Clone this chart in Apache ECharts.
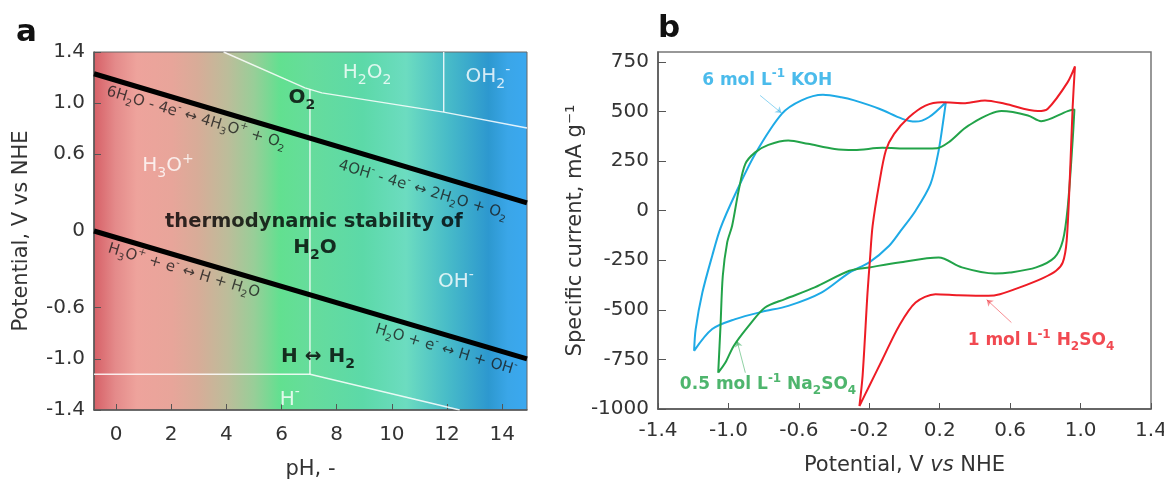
<!DOCTYPE html>
<html>
<head>
<meta charset="utf-8">
<script src="https://cdn.jsdelivr.net/npm/echarts@6/dist/echarts.min.js"></script>
<style>
  html, body { margin: 0; padding: 0; background: #ffffff; }
  #chart { width: 1164px; height: 481px; }
</style>
</head>
<body>
<div id="chart"></div>
<script>
// ---------- Panel a: Pourbaix-type stability diagram of water ----------
const phTicks = [0, 2, 4, 6, 8, 10, 12, 14];
const potentialTicksA = [-1.4, -1.0, -0.6, 0, 0.6, 1.0, 1.4];

// water stability limits (pH, V vs NHE)
const oxygenLine = [[-0.8, 1.23], [14.9, 0.22]];
const hydrogenLine = [[-0.8, 0.0], [14.9, -1.0]];

// thin region boundaries
const peroxideBoundary = [[3.9, 1.4], [6.85, 1.12], [7.46, 1.08], [11.88, 0.93], [14.9, 0.806]];
const perhydroxylBoundary = [[11.88, 1.4], [11.88, 0.93]];
const neutralBoundary = [[7.03, 1.11], [7.03, -1.12]];
const hydrideBoundary = [[-0.8, -1.12], [7.03, -1.12], [12.46, -1.4]];

// species / reaction names
const speciesLabels = ['H₂O₂', 'OH₂⁻', 'H₃O⁺', 'OH⁻', 'H⁻'];
const keyLabels = ['O₂', 'thermodynamic stability of', 'H₂O', 'H ↔ H₂'];
const reactionLabels = [
  '6H₂O - 4e⁻ ↔ 4H₃O⁺ + O₂',
  '4OH⁻ - 4e⁻ ↔ 2H₂O + O₂',
  'H₃O⁺ + e⁻ ↔ H + H₂O',
  'H₂O + e⁻ ↔ H + OH⁻'
];

// ---------- Panel b: cyclic voltammograms ----------
const potentialTicksB = [-1.4, -1.0, -0.6, -0.2, 0.2, 0.6, 1.0, 1.4];
const currentTicks = [-1000, -750, -500, -250, 0, 250, 500, 750];

const kohCurve = [
  [-1.195, -707], [-1.186, -597], [-1.148, -413], [-1.092, -227], [-1.045, -88],
  [-0.961, 84], [-0.848, 286], [-0.697, 488], [-0.585, 556], [-0.463, 584],
  [-0.359, 572], [-0.285, 556], [-0.144, 514], [-0.012, 463], [0.063, 449],
  [0.138, 471], [0.235, 547], [0.223, 471], [0.194, 303], [0.148, 135],
  [0.063, 0], [-0.021, -101], [-0.087, -177], [-0.2, -261], [-0.313, -312],
  [-0.472, -413], [-0.66, -480], [-0.81, -510], [-0.961, -547], [-1.092, -597],
  [-1.195, -707]
];
const na2so4Curve = [
  [-1.058, -817], [-1.045, -581], [-1.032, -328], [-1.007, -160], [-0.979, -76],
  [-0.942, 101], [-0.904, 236], [-0.848, 294], [-0.773, 332], [-0.66, 354],
  [-0.548, 337], [-0.397, 311], [-0.285, 306], [-0.125, 317], [0.025, 313],
  [0.185, 315], [0.251, 345], [0.363, 429], [0.551, 502], [0.701, 480],
  [0.776, 451], [0.927, 502], [0.965, 510], [0.955, 354], [0.927, 17],
  [0.899, -152], [0.852, -236], [0.748, -286], [0.598, -312], [0.514, -317],
  [0.326, -286], [0.194, -236], [-0.031, -261], [-0.2, -286], [-0.313, -303],
  [-0.51, -387], [-0.679, -446], [-0.792, -488], [-0.885, -581], [-0.97, -682],
  [-1.017, -766], [-1.058, -817]
];
const h2so4Curve = [
  [-0.256, -985], [-0.238, -833], [-0.21, -413], [-0.196, -244], [-0.181, -76],
  [-0.144, 135], [-0.106, 303], [-0.059, 387], [0.025, 471], [0.119, 530],
  [0.213, 547], [0.345, 542], [0.457, 556], [0.57, 539], [0.758, 502],
  [0.814, 514], [0.927, 648], [0.968, 727], [0.955, 522], [0.94, 185],
  [0.921, -152], [0.899, -261], [0.861, -303], [0.786, -340], [0.655, -387],
  [0.542, -421], [0.476, -429], [0.307, -426], [0.176, -421], [0.063, -463],
  [-0.031, -581], [-0.125, -749], [-0.2, -884], [-0.256, -985]
];
const electrolyteNames = ['6 mol L⁻¹ KOH', '0.5 mol L⁻¹ Na₂SO₄', '1 mol L⁻¹ H₂SO₄'];

// ---------- layout & styling ----------
const FONT = 'DejaVu Sans';
const TEXT = '#333333';
const AXIS = '#555555';
const COLORS = { koh: '#1eaae6', na: '#22a349', h: '#ee1c25' };

// anchor points (pH, V) for the text in panel a
const speciesAnchors = [[9.1, 1.236], [13.48, 1.205], [1.88, 0.509], [12.32, -0.398], [6.3, -1.32]];
const keyAnchors = [[6.74, 1.04], [7.17, 0.071], [7.21, -0.132], [7.32, -0.985]];
const reactionAnchors = [[2.9, 0.884], [11.12, 0.32], [2.46, -0.312], [11.96, -0.93]];

// anchor points (V, mA/g) for the electrolyte names and their pointers
const nameAnchors = [[-0.78, 657], [-0.775, -879], [0.775, -657]];
const pointerCoords = [
  [[-0.82, 581], [-0.698, 492]],
  [[-0.904, -817], [-0.951, -657]],
  [[0.607, -564], [0.467, -449]]
];
const curveColors = [COLORS.koh, COLORS.na, COLORS.h];

const fmt1 = v => (v === 0 ? '0' : v.toFixed(1));

// turn unicode sub/superscripts into rich-text fragments
const SUB = '₀₁₂₃₄₅₆₇₈₉';
const SUP = { '⁺': '+', '⁻': '-', '¹': '1' };
function toRich(s) {
  return s
    .replace(/[₀-₉]+/g, m => '{sub|' + [...m].map(c => SUB.indexOf(c)).join('') + '}')
    .replace(/[⁺⁻¹]+/g, m => '{sup|' + [...m].map(c => SUP[c]).join('') + '}');
}

function labelPoint(pos, text, style) {
  const fs = style.fontSize;
  const base = { fontFamily: FONT, color: style.color, fontWeight: style.fontWeight || 'normal' };
  return {
    value: pos,
    label: Object.assign({
      show: true, position: 'inside', formatter: toRich(text), fontFamily: FONT,
      lineHeight: Math.round(fs * 1.4),
      rich: {
        sub: Object.assign({ fontSize: Math.round(fs * 0.68), lineHeight: Math.round(fs * 0.8), verticalAlign: 'bottom' }, base),
        sup: Object.assign({ fontSize: Math.round(fs * 0.68), lineHeight: Math.round(fs * 1.0), verticalAlign: 'top' }, base)
      }
    }, style)
  };
}

function boundary(data) {
  return {
    type: 'line', xAxisIndex: 0, yAxisIndex: 0, data: data,
    symbol: 'none', silent: true, z: 3,
    lineStyle: { color: 'rgba(255,255,255,0.85)', width: 1.4 }
  };
}

const bgGradient = new echarts.graphic.LinearGradient(0, 0, 1, 0, [
  { offset: 0.00, color: '#d65f66' },
  { offset: 0.05, color: '#e48a8a' },
  { offset: 0.10, color: '#eea39c' },
  { offset: 0.18, color: '#e8a59a' },
  { offset: 0.24, color: '#d8ac98' },
  { offset: 0.31, color: '#bcbd9a' },
  { offset: 0.37, color: '#98ce98' },
  { offset: 0.43, color: '#62e090' },
  { offset: 0.50, color: '#66dc9c' },
  { offset: 0.62, color: '#5cd9a8' },
  { offset: 0.72, color: '#6cdcc0' },
  { offset: 0.815, color: '#48bcc8' },
  { offset: 0.91, color: '#2d98cf' },
  { offset: 0.955, color: '#3aa6e8' },
  { offset: 1.00, color: '#3aa8f0' }
]);

const tickFont = { fontFamily: FONT, fontSize: 20, color: TEXT };
const nameFont = { fontFamily: FONT, fontSize: 21, color: TEXT };

const chart = echarts.init(document.getElementById('chart'), null, { renderer: 'canvas' });

const option = {
  backgroundColor: '#ffffff',
  animation: false,
  title: [
    { text: 'a', left: 11, top: 12, textStyle: { fontFamily: FONT, fontSize: 31, fontWeight: 'bold', color: '#111' } },
    { text: 'b', left: 653, top: 8, textStyle: { fontFamily: FONT, fontSize: 31, fontWeight: 'bold', color: '#111' } }
  ],
  grid: [
    {
      left: 94, top: 52, width: 433, height: 358, outerBoundsMode: 'none', containLabel: false,
      show: true, backgroundColor: bgGradient, borderColor: '#666', borderWidth: 1
    },
    {
      left: 658, top: 52, width: 493, height: 357, outerBoundsMode: 'none', containLabel: false,
      show: true, backgroundColor: '#ffffff', borderColor: '#777', borderWidth: 1.5
    }
  ],
  xAxis: [
    {
      gridIndex: 0, type: 'value', min: -0.8, max: 14.9,
      name: 'pH, -', nameLocation: 'middle', nameGap: 49, nameTextStyle: nameFont,
      axisLine: { show: true, onZero: false, lineStyle: { color: AXIS, width: 1.5 } },
      axisTick: { show: true, inside: true, length: 6, customValues: phTicks, lineStyle: { color: AXIS } },
      axisLabel: Object.assign({ customValues: phTicks, margin: 15 }, tickFont),
      splitLine: { show: false }
    },
    {
      gridIndex: 1, type: 'value', min: -1.4, max: 1.4,
      name: 'Potential, V {i|vs} NHE', nameLocation: 'middle', nameGap: 46,
      nameTextStyle: Object.assign({ rich: { i: Object.assign({ fontStyle: 'italic' }, nameFont) } }, nameFont),
      axisLine: { show: true, onZero: false, lineStyle: { color: AXIS, width: 1.5 } },
      axisTick: { show: true, inside: true, length: 6, customValues: potentialTicksB, lineStyle: { color: AXIS } },
      axisLabel: Object.assign({ customValues: potentialTicksB, formatter: fmt1, margin: 12 }, tickFont),
      splitLine: { show: false }
    }
  ],
  yAxis: [
    {
      gridIndex: 0, type: 'value', min: -1.4, max: 1.4,
      name: 'Potential, V vs NHE', nameLocation: 'middle', nameGap: 62, nameTextStyle: nameFont,
      axisLine: { show: true, onZero: false, lineStyle: { color: AXIS, width: 1.5 } },
      axisTick: { show: true, inside: true, length: 7, customValues: potentialTicksA, lineStyle: { color: AXIS } },
      axisLabel: Object.assign({ customValues: potentialTicksA, formatter: fmt1, margin: 9 }, tickFont),
      splitLine: { show: false }
    },
    {
      gridIndex: 1, type: 'value', min: -1000, max: 800,
      name: 'Specific current, mA g⁻¹', nameLocation: 'middle', nameGap: 72, nameTextStyle: nameFont,
      axisLine: { show: true, onZero: false, lineStyle: { color: AXIS, width: 1.5 } },
      axisTick: { show: true, inside: true, length: 8, customValues: currentTicks, lineStyle: { color: AXIS } },
      axisLabel: Object.assign({ customValues: currentTicks, formatter: v => String(v), margin: 9 }, tickFont),
      splitLine: { show: false }
    }
  ],
  series: [
    // panel a boundaries
    boundary(peroxideBoundary),
    boundary(perhydroxylBoundary),
    boundary(neutralBoundary),
    boundary(hydrideBoundary),
    {
      type: 'line', xAxisIndex: 0, yAxisIndex: 0, data: oxygenLine, symbol: 'none', silent: true, z: 4,
      lineStyle: { color: '#000', width: 5 }
    },
    {
      type: 'line', xAxisIndex: 0, yAxisIndex: 0, data: hydrogenLine, symbol: 'none', silent: true, z: 4,
      lineStyle: { color: '#000', width: 5 }
    },
    // panel a text
    {
      type: 'scatter', xAxisIndex: 0, yAxisIndex: 0, symbolSize: 0, silent: true, z: 6,
      data: []
        .concat(speciesLabels.map((t, i) => labelPoint(speciesAnchors[i], t, { color: '#ffffff', fontSize: 20 })))
        .concat(keyLabels.map((t, i) => labelPoint(keyAnchors[i], t, { color: '#000000', fontSize: i === 1 ? 19.5 : 20, fontWeight: 'bold' })))
        .concat(reactionLabels.map((t, i) => labelPoint(reactionAnchors[i], t, { color: '#1a1a1a', fontSize: 15, rotate: -16.6 })))
    },
    // panel b curves
    {
      type: 'line', xAxisIndex: 1, yAxisIndex: 1, data: kohCurve, symbol: 'none', smooth: 0.3, silent: true, z: 3,
      lineStyle: { color: COLORS.koh, width: 2 }
    },
    {
      type: 'line', xAxisIndex: 1, yAxisIndex: 1, data: na2so4Curve, symbol: 'none', smooth: 0.3, silent: true, z: 3,
      lineStyle: { color: COLORS.na, width: 2 }
    },
    {
      type: 'line', xAxisIndex: 1, yAxisIndex: 1, data: h2so4Curve, symbol: 'none', smooth: 0.3, silent: true, z: 4,
      lineStyle: { color: COLORS.h, width: 2 }
    },
    // pointers from names to curves
    {
      type: 'lines', coordinateSystem: 'cartesian2d', xAxisIndex: 1, yAxisIndex: 1, silent: true, z: 5,
      symbol: ['none', 'arrow'], symbolSize: 6,
      data: pointerCoords.map((c, i) => ({ coords: c, lineStyle: { color: curveColors[i], width: 1 } }))
    },
    {
      type: 'scatter', xAxisIndex: 1, yAxisIndex: 1, symbolSize: 0, silent: true, z: 6,
      data: electrolyteNames.map((t, i) => labelPoint(nameAnchors[i], t, { color: curveColors[i], fontSize: 17, fontWeight: 'bold' }))
    }
  ]
};

chart.setOption(option);
</script>
</body>
</html>
